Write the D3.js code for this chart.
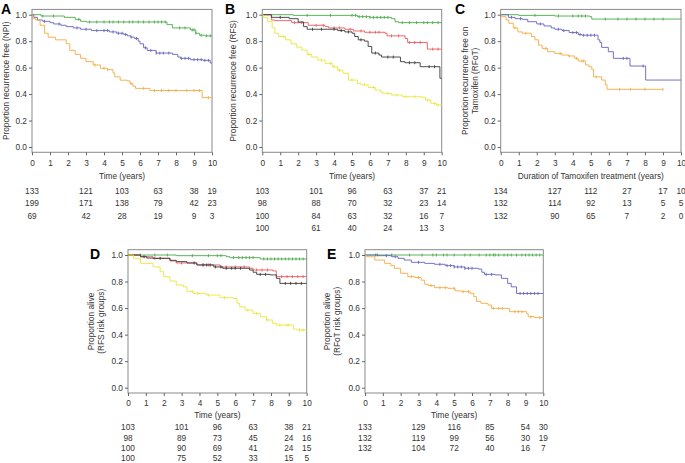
<!DOCTYPE html>
<html><head><meta charset="utf-8">
<script src="https://cdn.jsdelivr.net/npm/d3@7"></script>
<style>
body{margin:0;background:#fff;}
svg{display:block;font-family:"Liberation Sans",Arial,Helvetica,sans-serif;}
</style></head>
<body>
<svg id="chart" width="685" height="463"></svg>
<script>
// ---------- DATA ----------
const timeTicks = [0,1,2,3,4,5,6,7,8,9,10];
const yTicks = [0,0.2,0.4,0.6,0.8,1.0];
const riskTimes = [0,3,5,7,9,10];

// Panel A (NPI)
const A_green = [[0,1],[0.5,0.99],[1.8,0.98],[2.4,0.965],[2.7,0.95],[3.0,0.945],[7.5,0.925],[7.8,0.90],[8.8,0.885],[9.1,0.86],[9.3,0.845],[9.6,0.84]];
const A_blue = [[0,1],[0.1,0.98],[0.3,0.96],[0.6,0.95],[1.0,0.94],[1.2,0.93],[1.6,0.92],[1.9,0.91],[2.3,0.90],[2.7,0.89],[3.3,0.88],[4.3,0.87],[4.7,0.86],[5.1,0.85],[5.3,0.84],[5.5,0.83],[5.7,0.82],[5.9,0.80],[6.0,0.78],[6.2,0.75],[6.4,0.73],[6.9,0.71],[7.8,0.70],[8.1,0.68],[8.25,0.67],[8.8,0.66],[9.5,0.655],[9.9,0.635]];
const A_orange = [[0,1],[0.02,0.97],[0.2,0.96],[0.45,0.92],[0.7,0.86],[0.9,0.83],[1.3,0.81],[1.9,0.78],[2.1,0.73],[2.4,0.70],[2.7,0.67],[3.0,0.645],[3.4,0.62],[3.8,0.595],[4.2,0.585],[4.5,0.56],[4.6,0.53],[4.9,0.505],[5.3,0.50],[5.45,0.48],[5.6,0.46],[5.75,0.443],[6.55,0.427],[9.45,0.373]];
const A_green_c = [0.6,1.2,2.6,3.2,3.6,4.0,4.3,4.5,4.8,5.1,5.4,5.6,5.9,6.2,6.5,6.8,7.0,7.2,7.4,8.2,8.5,8.9,9.0,9.1,9.4,9.7,9.9];
const A_blue_c = [0.7,1.5,2.5,3.0,3.6,4.0,4.2,4.5,4.8,5.0,5.2,5.5,5.8,6.3,6.6,6.9,7.1,7.3,7.6,8.3,8.5,8.7,9.0,9.2,9.4,9.6,9.8];
const A_orange_c = [3.5,4.0,4.2,5.5,6.2,6.8,7.2,7.6,8.0,8.6,9.0,9.3,9.8];
const A_risk = [[133,121,103,63,38,19],[199,171,138,79,42,23],[69,42,28,19,9,3]];

// Panel B (RFS)
const B_green = [[0,1],[1.73,0.995],[5.3,0.985],[6.0,0.98],[7.2,0.97],[7.4,0.947],[7.6,0.94]];
const B_red = [[0,1],[0.52,0.96],[0.7,0.955],[1.64,0.94],[2.56,0.92],[3.5,0.91],[3.7,0.90],[4.6,0.89],[5.07,0.877],[5.7,0.867],[6.84,0.86],[6.95,0.84],[7.96,0.82],[8.1,0.79],[9.2,0.74]];
const B_black = [[0,1],[0.5,0.98],[1.5,0.97],[2.0,0.945],[2.3,0.91],[2.5,0.89],[4.2,0.88],[4.6,0.87],[5.0,0.86],[5.15,0.835],[5.35,0.81],[5.7,0.80],[5.9,0.76],[6.1,0.71],[6.5,0.695],[6.65,0.68],[7.7,0.645],[7.95,0.637],[8.8,0.607],[9.9,0.52]];
const B_yellow = [[0,1],[0.05,0.98],[0.3,0.947],[0.55,0.90],[0.7,0.86],[0.9,0.835],[1.3,0.81],[1.6,0.78],[1.9,0.755],[2.2,0.733],[2.5,0.70],[2.75,0.68],[3.1,0.657],[3.5,0.632],[3.9,0.607],[4.2,0.58],[4.5,0.557],[4.8,0.506],[5.3,0.48],[5.5,0.47],[5.9,0.45],[6.3,0.43],[6.6,0.415],[6.7,0.405],[7.2,0.393],[7.8,0.38],[8.9,0.375],[9.1,0.355],[9.4,0.33],[9.7,0.317]];
const B_green_c = [2.5,3.8,5.0,5.2,5.4,5.6,5.8,6.0,6.2,6.4,6.6,6.8,7.0,7.8,8.2,8.6,9.0,9.2,9.5,9.8];
const B_red_c = [1.8,2.2,3.0,3.4,4.0,4.3,4.9,5.5,6.0,6.3,6.5,7.2,7.6,8.2,8.5,8.8,9.5,9.8];
const B_black_c = [1.0,2.8,3.3,4.0,4.4,4.8,5.5,6.3,7.0,7.3,8.2,8.5,9.3,9.6];
const B_yellow_c = [1.2,2.6,3.3,3.8,4.0,4.3,5.0,5.7,6.2,7.0,7.5,8.0,8.5,9.2,9.6,9.8];
const B_risk = [[103,101,96,63,37,21],[98,88,70,32,23,14],[100,84,63,32,16,7],[100,61,40,24,13,3]];

// Panel C (RFoT)
const C_green = [[0,1],[1.0,0.995],[3.0,0.99],[4.95,0.985],[5.05,0.967]];
const C_blue = [[0,1],[0.43,0.98],[0.8,0.97],[1.2,0.965],[1.5,0.947],[2.0,0.93],[2.4,0.915],[2.8,0.90],[3.0,0.89],[3.4,0.88],[3.8,0.865],[4.3,0.85],[4.5,0.845],[5.4,0.81],[5.5,0.79],[5.6,0.753],[5.97,0.72],[6.25,0.67],[7.17,0.612],[8.04,0.506]];
const C_orange = [[0,1],[0.05,0.985],[0.3,0.96],[0.45,0.935],[0.7,0.9],[0.95,0.87],[1.2,0.86],[1.7,0.834],[1.9,0.81],[2.1,0.77],[2.3,0.745],[2.6,0.72],[3.0,0.707],[3.4,0.695],[3.75,0.688],[4.1,0.67],[4.3,0.65],[4.7,0.62],[4.9,0.607],[5.05,0.587],[5.15,0.53],[5.6,0.506],[5.8,0.47],[5.9,0.436]];
const C_green_c = [1.9,3.2,4.0,4.3,4.5,4.7,5.8,6.5,7.0,7.5,8.0,8.5,9.0];
const C_blue_c = [0.6,1.1,2.2,3.2,3.5,4.0,4.2,4.4,4.6,4.8,5.0,5.2,6.8,7.0,7.9];
const C_orange_c = [0.8,1.4,2.5,3.3,3.8,4.2,4.5,4.6,5.3,6.6,7.2,8.0,9.0];
const C_risk = [[134,127,112,27,17,10],[132,114,92,13,5,5],[132,90,65,7,2,0]];

// Panel D (alive, RFS groups)
const D_green = [[0,1],[2.7,0.995],[5.5,0.987],[5.7,0.98],[7.4,0.97]];
const D_red = [[0,1],[0.7,0.987],[1.4,0.975],[2.35,0.955],[2.7,0.94],[3.85,0.925],[5.15,0.91],[6.8,0.90],[7.0,0.887],[8.1,0.88],[8.3,0.837]];
const D_black = [[0,1],[0.7,0.987],[1.05,0.977],[1.4,0.975],[2.35,0.96],[2.7,0.95],[3.3,0.94],[3.85,0.925],[4.8,0.91],[5.3,0.90],[6.8,0.887],[7.0,0.87],[7.2,0.854],[7.95,0.85],[8.3,0.824],[8.5,0.786]];
const D_yellow = [[0,1],[0.3,0.975],[0.7,0.937],[1.4,0.91],[1.8,0.874],[2.0,0.837],[2.35,0.804],[2.7,0.774],[3.1,0.76],[3.3,0.724],[3.65,0.711],[4.4,0.698],[5.15,0.678],[5.9,0.673],[6.1,0.636],[6.25,0.61],[6.55,0.585],[7.0,0.56],[7.4,0.535],[7.75,0.51],[8.1,0.485],[8.3,0.472],[9.25,0.442],[9.45,0.435]];
const D_green_c = [0.7,1.5,2.2,3.6,4.5,5.0,5.2,5.9,6.2,6.4,6.6,6.8,7.0,7.6,7.8,8.0,8.2,8.4,8.6,8.8,9.0,9.2,9.4,9.6,9.8];
const D_red_c = [1.5,3.0,4.2,4.5,5.5,6.0,6.5,7.2,7.5,7.8,8.6,8.9,9.2,9.5,9.8];
const D_black_c = [0.9,1.8,3.7,4.2,4.4,4.6,4.9,5.2,5.5,5.8,6.0,6.3,7.4,7.7,8.8,9.1,9.4,9.7];
const D_yellow_c = [3.6,3.9,4.5,5.4,6.7,7.2,7.8,8.5,8.9,9.0,9.6,9.8];
const D_risk = [[103,101,96,63,38,21],[98,89,73,45,24,16],[100,90,69,41,24,15],[100,75,52,33,15,5]];

// Panel E (alive, RFoT groups)
const E_green = [[0,1]];
const E_blue = [[0,1],[0.73,0.995],[1.5,0.987],[1.85,0.975],[2.2,0.962],[2.6,0.945],[3.35,0.937],[3.9,0.93],[4.5,0.92],[5.0,0.91],[5.6,0.90],[6.35,0.894],[6.55,0.87],[6.7,0.854],[7.3,0.85],[7.65,0.824],[8.0,0.786],[8.2,0.76],[8.5,0.71]];
const E_orange = [[0,1],[0.08,0.987],[0.55,0.962],[1.1,0.937],[1.45,0.92],[1.65,0.90],[2.0,0.862],[2.4,0.837],[2.8,0.83],[3.15,0.81],[3.35,0.779],[3.55,0.77],[3.9,0.754],[4.65,0.749],[5.05,0.73],[5.4,0.724],[5.9,0.711],[6.1,0.686],[6.25,0.65],[6.5,0.636],[6.9,0.623],[7.1,0.598],[8.1,0.573],[9.06,0.56],[9.15,0.535],[9.5,0.528]];
const E_green_c = [0.7,1.5,2.5,3.2,3.8,4.0,4.4,4.6,5.0,5.6,5.9,6.4,6.8,7.0,7.2,7.3,7.5,7.8,8.0,8.2,8.5,8.8,9.0,9.2,9.4,9.6,9.8];
const E_blue_c = [0.6,1.2,1.7,3.0,4.2,4.6,4.8,5.0,5.2,5.4,5.6,5.8,6.0,6.8,7.1,8.7,8.9,9.1,9.3,9.5,9.7];
const E_orange_c = [2.6,3.0,3.7,4.2,4.5,5.0,5.5,5.8,7.2,7.5,7.7,8.4,8.6,8.8,9.3,9.8];
const E_risk = [[133,129,116,85,54,30],[132,119,99,56,30,19],[132,104,72,40,16,7]];

// ---------- STYLE ----------
const COL = {green:"#49a94a", blue:"#6464bd", orange:"#f4ab45", yellow:"#ebe53a", red:"#ea5a5c", black:"#3a3a3a"};

const panels = [
  {letter:"A", lx:1, x0:32, x1:212, yTop:14.7, yBot:147, xTitle:"Time (years)", yTitle:["Proportion recurrence free (NPI)"], yTitleX:[6],
   curves:[["green",A_green,A_green_c,10],["blue",A_blue,A_blue_c,10],["orange",A_orange,A_orange_c,10]], risk:A_risk, riskY:[190.7,203.3,216], titleDy:26.5},
  {letter:"B", lx:225, x0:262.3, x1:441.7, yTop:14.7, yBot:147, xTitle:"Time (years)", yTitle:["Proportion recurrence free (RFS)"], yTitleX:[233.5],
   curves:[["green",B_green,B_green_c,10],["red",B_red,B_red_c,10],["black",B_black,B_black_c,10],["yellow",B_yellow,B_yellow_c,10]], risk:B_risk, riskY:[190.7,203.3,216,228.5], titleDy:26.5},
  {letter:"C", lx:455, x0:500.7, x1:681, yTop:14.7, yBot:147, xTitle:"Duration of Tamoxifen treatment (years)", yTitle:["Proportion recurrence free on","Tamoxifen (RFoT)"], yTitleX:[465.5,475],
   curves:[["green",C_green,C_green_c,10],["blue",C_blue,C_blue_c,10],["orange",C_orange,C_orange_c,9.0]], risk:C_risk, riskY:[190.7,203.3,216], titleDy:26.5},
  {letter:"D", lx:90, x0:128, x1:306.7, yTop:255, yBot:387.7, xTitle:"Time (years)", yTitle:["Proportion alive","(RFS risk groups)"], yTitleX:[91,101],
   curves:[["green",D_green,D_green_c,10],["red",D_red,D_red_c,10],["black",D_black,D_black_c,10],["yellow",D_yellow,D_yellow_c,10]], risk:D_risk, riskY:[426.7,438.3,448.3,458.3], titleDy:24.5},
  {letter:"E", lx:327, x0:365, x1:543.3, yTop:255, yBot:387.7, xTitle:"Time (years)", yTitle:["Proportion alive","(RFoT risk groups)"], yTitleX:[327,337],
   curves:[["green",E_green,E_green_c,10],["blue",E_blue,E_blue_c,10],["orange",E_orange,E_orange_c,10]], risk:E_risk, riskY:[426.7,438.3,448.3], titleDy:24.5}
];

const svg = d3.select("#chart");
const FS = 8.3;

function survAt(steps, t){
  let s = 1;
  for(const p of steps){ if(p[0] <= t) s = p[1]; else break; }
  return s;
}

panels.forEach(P => {
  const x = d3.scaleLinear().domain([0,10]).range([P.x0, P.x1]);
  const y = d3.scaleLinear().domain([0,1]).range([P.yBot, P.yTop]);
  const g = svg.append("g");
  const boxTop = y(1.04), boxBot = y(-0.04);

  // frame
  g.append("rect").attr("x", P.x0).attr("y", boxTop).attr("width", P.x1-P.x0).attr("height", boxBot-boxTop)
    .attr("fill","none").attr("stroke","#8a8a8a").attr("stroke-width",1);

  // y axis
  const ya = g.append("g").attr("transform",`translate(${P.x0},0)`)
    .call(d3.axisLeft(y).tickValues(yTicks).tickFormat(d3.format(".1f")).tickSize(3).tickPadding(2));
  ya.select(".domain").remove();
  ya.selectAll("line").attr("stroke","#666");
  ya.selectAll("text").attr("font-size",FS).attr("fill","#333").attr("font-family","Liberation Sans, Arial, sans-serif");

  // x axis
  const xa = g.append("g").attr("transform",`translate(0,${boxBot})`)
    .call(d3.axisBottom(x).tickValues(timeTicks).tickFormat(d3.format("d")).tickSize(3).tickPadding(4.5));
  xa.select(".domain").remove();
  xa.selectAll("line").attr("stroke","#666");
  xa.selectAll("text").attr("font-size",FS).attr("fill","#333").attr("font-family","Liberation Sans, Arial, sans-serif");

  // x title
  g.append("text").attr("x",(P.x0+P.x1)/2).attr("y",boxBot+P.titleDy).attr("text-anchor","middle")
    .attr("font-size",FS).attr("fill","#333").text(P.xTitle);

  // y title
  const ym = (boxTop+boxBot)/2;
  P.yTitle.forEach((t,i) => {
    g.append("text").attr("transform",`translate(${P.yTitleX[i]},${ym}) rotate(-90)`)
      .attr("text-anchor","middle").attr("dy","0.35em").attr("font-size",FS).attr("fill","#333").text(t);
  });

  // panel letter
  g.append("text").attr("x",P.lx).attr("y",P.letter==="A"||P.letter==="B"||P.letter==="C"?13.5:258.5)
    .attr("font-size",14).attr("font-weight","bold").attr("fill","#000").text(P.letter);

  // curves
  const line = d3.line().x(d=>x(d[0])).y(d=>y(d[1])).curve(d3.curveStepAfter);
  P.curves.forEach(([c, steps, cens, tEnd]) => {
    const pts = steps.concat([[tEnd, steps[steps.length-1][1]]]);
    g.append("path").attr("d", line(pts)).attr("fill","none").attr("stroke",COL[c]).attr("stroke-width",0.9);
    g.selectAll(null).data(cens).enter().append("line")
      .attr("x1",d=>x(d)).attr("x2",d=>x(d))
      .attr("y1",d=>y(survAt(steps,d))-1.5).attr("y2",d=>y(survAt(steps,d))+1.5)
      .attr("stroke",COL[c]).attr("stroke-width",0.9);
  });

  // numbers at risk
  P.risk.forEach((row,ri) => {
    row.forEach((v,ci) => {
      g.append("text").attr("x",x(riskTimes[ci])).attr("y",P.riskY[ri]).attr("dy","0.35em")
        .attr("text-anchor","middle").attr("font-size",FS).attr("fill","#333").text(v);
    });
  });
});
</script>
</body></html>
